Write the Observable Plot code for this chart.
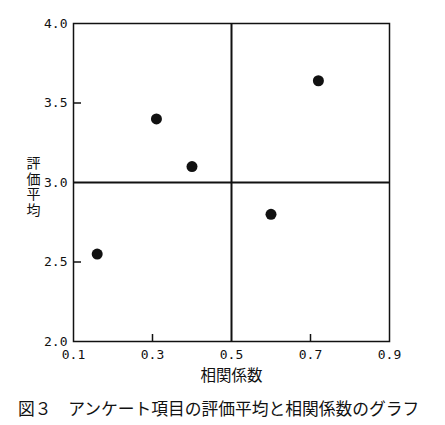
<!DOCTYPE html>
<html><head><meta charset="utf-8">
<script src="https://cdn.jsdelivr.net/npm/d3@7"></script>
<script src="https://cdn.jsdelivr.net/npm/@observablehq/plot@0.6"></script>
<style>
body{margin:0;background:#fff;}
#cap{font-family:"Noto Sans CJK JP";font-size:16.75px;padding-left:18px;margin-top:8px;white-space:nowrap;color:#111;line-height:20px}
</style></head><body><div id="chart"></div><div id="cap"></div>
<script>
const correlation = [0.16, 0.31, 0.40, 0.60, 0.72];
const ratingMean = [2.55, 3.40, 3.10, 2.80, 3.64];
const xTicks = [0.1, 0.3, 0.5, 0.7, 0.9];
const yTicks = [2.0, 2.5, 3.0, 3.5, 4.0];
const xMinorTicks = [0.3, 0.7];
const yMinorTicks = [2.5, 3.5];
const xDivider = [0.5];
const yDivider = [3.0];
const xLabel = "相関係数";
const yLabel = "評価平均";
const caption = "図３　アンケート項目の評価平均と相関係数のグラフ";

const points = correlation.map((c, i) => ({c, m: ratingMean[i]}));
const W = 445, H = 390, mL = 73, mR = 56, mT = 23, mB = 49;
const pw = W - mL - mR, ph = H - mT - mB;
const ink = "#111";
const fmt = d3.format(".1f");

const chart = Plot.plot({
  width: W, height: H,
  marginLeft: mL, marginRight: mR, marginTop: mT, marginBottom: mB,
  x: {domain: [0.1, 0.9]},
  y: {domain: [2.0, 4.0]},
  style: {fontFamily: "DejaVu Sans Mono", fontSize: "13px", color: ink, background: "#fff"},
  marks: [
    Plot.axisX(xTicks, {tickSize: 0, tickPadding: 8, tickFormat: fmt, label: null, fill: ink, fontSize: 13}),
    Plot.axisY(yTicks, {tickSize: 0, tickPadding: 6, tickFormat: fmt, label: null, fill: ink, fontSize: 13}),
    Plot.frame({stroke: ink, strokeWidth: 1.5}),
    Plot.ruleX(xDivider, {x: d => d, stroke: ink, strokeWidth: 2}),
    Plot.ruleY(yDivider, {y: d => d, stroke: ink, strokeWidth: 2}),
    Plot.tickX(xMinorTicks, {x: d => d, insetTop: ph - 7, stroke: ink, strokeWidth: 1.5}),
    Plot.tickY(yMinorTicks, {y: d => d, insetRight: pw - 8, stroke: ink, strokeWidth: 1.5}),
    Plot.dot(points, {x: "c", y: "m", r: 5.5, fill: ink, stroke: "none"}),
    Plot.text([xLabel], {text: d => d, frameAnchor: "bottom", dy: 35, lineAnchor: "middle", textAnchor: "middle", fontFamily: "Noto Sans CJK JP", fontSize: 15.5, fill: ink}),
    Plot.text([yLabel], {text: d => d, frameAnchor: "left", dx: -40, textAnchor: "middle", lineAnchor: "middle", fontFamily: "Noto Sans CJK JP", fontSize: 14, fill: ink})
  ]
});
const yl = [...chart.querySelectorAll("text")].find(t => t.textContent === yLabel);
if (yl) {
  yl.removeAttribute("dy");
  yl.setAttribute("writing-mode", "vertical-rl");
  yl.style.textOrientation = "upright";
  yl.style.letterSpacing = "1.5px";
}
document.getElementById("chart").appendChild(chart);
document.getElementById("cap").textContent = caption;
</script>
</body></html>
